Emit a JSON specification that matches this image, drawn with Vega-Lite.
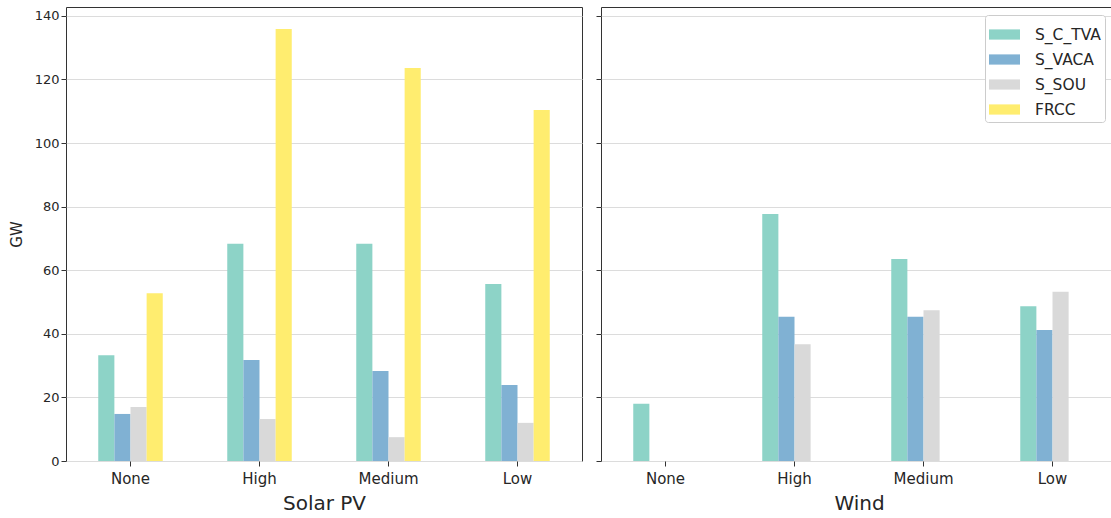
{
  "$schema": "https://vega.github.io/schema/vega-lite/v6.json",
  "autosize": {"type": "pad"},
  "padding": {"left": 8, "top": 6, "right": 0, "bottom": 0},
  "background": "white",
  "config": {
    "font": "DejaVu Sans",
    "view": {"stroke": "#333333", "strokeWidth": 1},
    "axis": {"labelColor": "#262626", "titleColor": "#262626", "labelFont": "DejaVu Sans", "titleFont": "DejaVu Sans", "titleFontWeight": "normal", "domainColor": "#333333", "tickColor": "#333333"}
  },
  "data": {"values": [
    {"tech": "Solar PV", "level": "None", "region": "S_C_TVA", "GW": 33.3},
    {"tech": "Solar PV", "level": "None", "region": "S_VACA", "GW": 14.8},
    {"tech": "Solar PV", "level": "None", "region": "S_SOU", "GW": 17.0},
    {"tech": "Solar PV", "level": "None", "region": "FRCC", "GW": 52.8},
    {"tech": "Solar PV", "level": "High", "region": "S_C_TVA", "GW": 68.3},
    {"tech": "Solar PV", "level": "High", "region": "S_VACA", "GW": 31.8},
    {"tech": "Solar PV", "level": "High", "region": "S_SOU", "GW": 13.2},
    {"tech": "Solar PV", "level": "High", "region": "FRCC", "GW": 135.9},
    {"tech": "Solar PV", "level": "Medium", "region": "S_C_TVA", "GW": 68.3},
    {"tech": "Solar PV", "level": "Medium", "region": "S_VACA", "GW": 28.3},
    {"tech": "Solar PV", "level": "Medium", "region": "S_SOU", "GW": 7.5},
    {"tech": "Solar PV", "level": "Medium", "region": "FRCC", "GW": 123.6},
    {"tech": "Solar PV", "level": "Low", "region": "S_C_TVA", "GW": 55.7},
    {"tech": "Solar PV", "level": "Low", "region": "S_VACA", "GW": 23.9},
    {"tech": "Solar PV", "level": "Low", "region": "S_SOU", "GW": 12.0},
    {"tech": "Solar PV", "level": "Low", "region": "FRCC", "GW": 110.4},
    {"tech": "Wind", "level": "None", "region": "S_C_TVA", "GW": 18.0},
    {"tech": "Wind", "level": "None", "region": "S_VACA", "GW": 0},
    {"tech": "Wind", "level": "None", "region": "S_SOU", "GW": 0},
    {"tech": "Wind", "level": "None", "region": "FRCC", "GW": 0},
    {"tech": "Wind", "level": "High", "region": "S_C_TVA", "GW": 77.7},
    {"tech": "Wind", "level": "High", "region": "S_VACA", "GW": 45.4},
    {"tech": "Wind", "level": "High", "region": "S_SOU", "GW": 36.7},
    {"tech": "Wind", "level": "High", "region": "FRCC", "GW": 0},
    {"tech": "Wind", "level": "Medium", "region": "S_C_TVA", "GW": 63.5},
    {"tech": "Wind", "level": "Medium", "region": "S_VACA", "GW": 45.4},
    {"tech": "Wind", "level": "Medium", "region": "S_SOU", "GW": 47.4},
    {"tech": "Wind", "level": "Medium", "region": "FRCC", "GW": 0},
    {"tech": "Wind", "level": "Low", "region": "S_C_TVA", "GW": 48.7},
    {"tech": "Wind", "level": "Low", "region": "S_VACA", "GW": 41.2},
    {"tech": "Wind", "level": "Low", "region": "S_SOU", "GW": 53.2},
    {"tech": "Wind", "level": "Low", "region": "FRCC", "GW": 0}
  ]},
  "spacing": 12,
  "hconcat": [
    {
      "width": 516,
      "height": 454,
      "transform": [{"filter": "datum.tech == 'Solar PV'"}],
      "mark": {"type": "bar"},
      "encoding": {
        "x": {"field": "level", "type": "nominal", "sort": ["None", "High", "Medium", "Low"],
              "scale": {"paddingInner": 0.5, "paddingOuter": 0.25},
              "axis": {"title": "Solar PV", "titleFontSize": 20, "labelFontSize": 15, "labelAngle": 0, "tickSize": 5, "labelPadding": 5, "titlePadding": 7, "domain": false}},
        "xOffset": {"field": "region", "type": "nominal", "scale": {"domain": ["S_C_TVA", "S_VACA", "S_SOU", "FRCC"], "paddingInner": 0, "paddingOuter": 0}},
        "y": {"field": "GW", "type": "quantitative",
              "scale": {"domain": [0, 142.8], "nice": false},
              "axis": {"title": "GW", "titleFontSize": 15, "labelFontSize": 13, "values": [0, 20, 40, 60, 80, 100, 120, 140], "tickSize": 5, "gridColor": "#dcdcdc", "domain": false, "titlePadding": 10}},
        "color": {"field": "region", "type": "nominal",
                  "scale": {"domain": ["S_C_TVA", "S_VACA", "S_SOU", "FRCC"], "range": ["#8dd3c7", "#80b1d3", "#d9d9d9", "#ffed6f"]},
                  "legend": {"title": null, "orient": "none", "legendX": 919, "legendY": 8, "labelFontSize": 15.5, "labelColor": "#262626",
                             "symbolType": "M-1,-0.33H1V0.33H-1Z", "symbolSize": 961, "symbolStrokeWidth": 0, "symbolOpacity": 1,
                             "rowPadding": 1, "labelOffset": 15, "padding": 4, "strokeColor": "#cccccc", "fillColor": "white", "cornerRadius": 3}}
      }
    },
    {
      "width": 516,
      "height": 454,
      "transform": [{"filter": "datum.tech == 'Wind'"}],
      "mark": {"type": "bar"},
      "encoding": {
        "x": {"field": "level", "type": "nominal", "sort": ["None", "High", "Medium", "Low"],
              "scale": {"paddingInner": 0.5, "paddingOuter": 0.25},
              "axis": {"title": "Wind", "titleFontSize": 20, "labelFontSize": 15, "labelAngle": 0, "tickSize": 5, "labelPadding": 5, "titlePadding": 7, "domain": false}},
        "xOffset": {"field": "region", "type": "nominal", "scale": {"domain": ["S_C_TVA", "S_VACA", "S_SOU", "FRCC"], "paddingInner": 0, "paddingOuter": 0}},
        "y": {"field": "GW", "type": "quantitative",
              "scale": {"domain": [0, 142.8], "nice": false},
              "axis": {"title": null, "labels": false, "values": [0, 20, 40, 60, 80, 100, 120, 140], "tickSize": 5, "gridColor": "#dcdcdc", "domain": false}},
        "color": {"field": "region", "type": "nominal"}
      }
    }
  ]
}
